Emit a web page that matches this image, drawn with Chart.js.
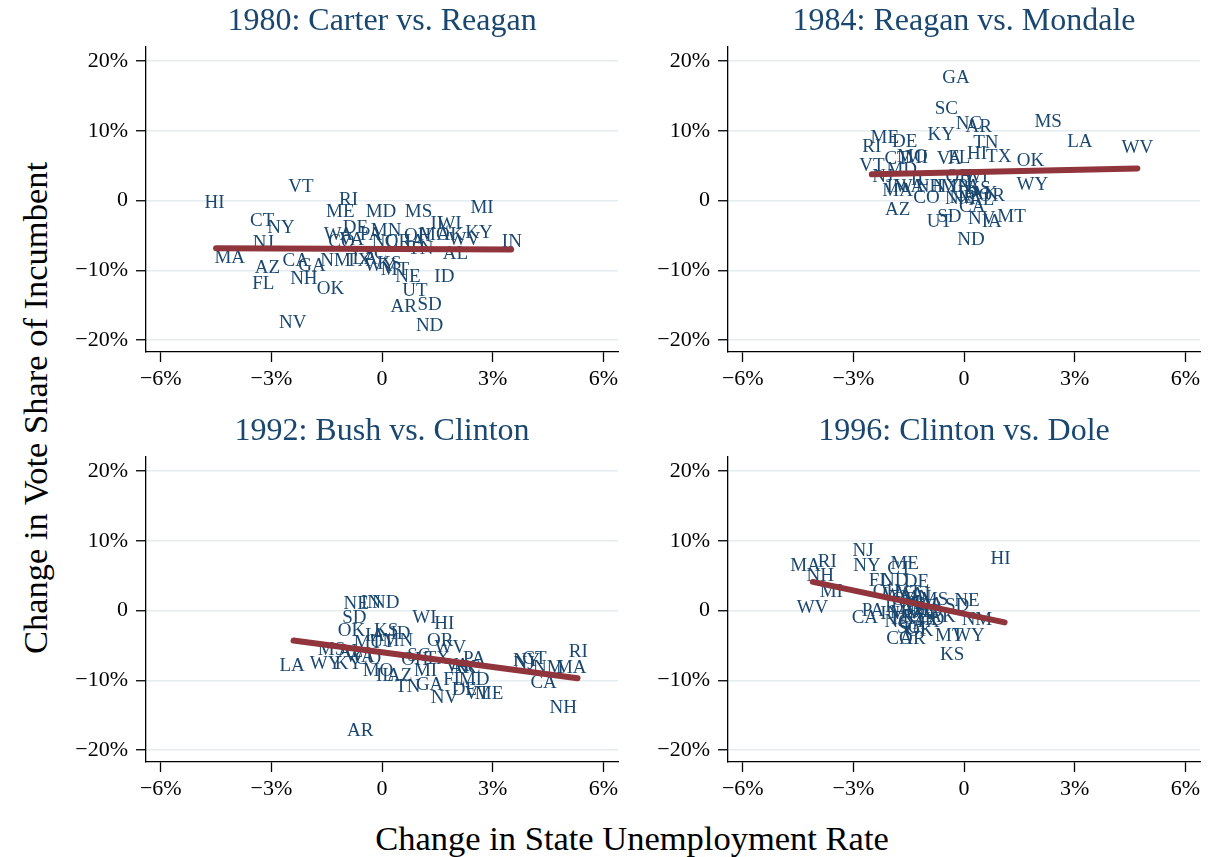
<!DOCTYPE html>
<html>
<head>
<meta charset="utf-8">
<script src="https://cdn.jsdelivr.net/npm/chart.js@4.4.0/dist/chart.umd.min.js"></script>
<style>
  body { margin: 0; background: #fff; width: 1211px; height: 857px; position: relative; overflow: hidden; }
  .panel { position: absolute; width: 552px; height: 397px; }
  .axis-title { position: absolute; font-family: "Liberation Serif", serif; font-size: 34.5px; color: #000; white-space: nowrap; }
  #ytitle { left: 35px; top: 408px; transform: translate(-50%, -50%) rotate(-90deg); }
  #xtitle { left: 632px; top: 838px; transform: translate(-50%, -50%); }
</style>
</head>
<body>
<div class="panel" style="left:70px;top:0px"><canvas id="c1980"></canvas></div>
<div class="panel" style="left:652px;top:0px"><canvas id="c1984"></canvas></div>
<div class="panel" style="left:70px;top:410px"><canvas id="c1992"></canvas></div>
<div class="panel" style="left:652px;top:410px"><canvas id="c1996"></canvas></div>
<div class="axis-title" id="ytitle">Change in Vote Share of Incumbent</div>
<div class="axis-title" id="xtitle">Change in State Unemployment Rate</div>
<script>
// tick values
const xTicks = [-6, -3, 0, 3, 6];
const yTicks = [-20, -10, 0, 10, 20];

// 1980: Carter vs. Reagan
const states1980 = ['HI','VT','CT','NY','NJ','MA','AZ','FL','CA','GA','NH','OK','NM','NV','RI','ME','TX','MD','MS','MI','IL','WI','KY','IN','DE','MN','WA','PA','OH','MO','AK','WV','AL','TN','NE','ID','UT','AR','SD','ND','CO','NC','LA','WY','KS','MT','SC','IA','OR','VA'];
const unemp1980 = [-4.54,-2.2,-3.25,-2.74,-3.22,-4.13,-3.11,-3.22,-2.34,-1.9,-2.12,-1.4,-1.26,-2.42,-0.91,-1.13,-0.64,-0.03,0.99,2.71,1.56,1.83,2.63,3.52,-0.72,0.11,-1.18,-0.3,0.97,1.42,1.85,2.23,1.99,1.05,0.7,1.69,0.89,0.59,1.29,1.29,-1.1,0.08,-0.46,-0.05,0.2,0.35,-0.19,0.89,0.43,-0.83];
const vote1980 = [-0.3,2.0,-3.0,-3.9,-6.1,-8.3,-9.7,-11.9,-8.7,-9.4,-11.3,-12.7,-8.6,-17.6,0.1,-1.6,-8.7,-1.6,-1.6,-1.0,-3.3,-3.3,-4.6,-5.9,-3.9,-4.4,-4.9,-4.9,-5.1,-4.9,-4.9,-5.6,-7.7,-7.0,-11.0,-10.9,-13.0,-15.3,-15.0,-18.0,-5.9,-6.0,-8.4,-9.4,-9.1,-9.9,-7.7,-6.0,-6.0,-5.6];
const fitX1980 = [-4.5, 3.5];
const fitY1980 = [-6.85, -7.0];

// 1984: Reagan vs. Mondale
const states1984 = ['GA','SC','NC','AR','KY','ME','DE','RI','TN','MO','CT','MI','VT','MD','FL','VA','HI','TX','OK','WY','MA','NJ','AZ','CO','IN','WA','NH','NY','MN','OH','PA','WI','NE','OR','NM','CA','IA','NV','MT','SD','UT','ND','AL','ID','MS','LA','WV','IL','KS','AK'];
const unemp1984 = [-0.22,-0.48,0.13,0.4,-0.62,-2.15,-1.61,-2.5,0.59,-1.4,-1.83,-1.29,-2.5,-1.69,-0.13,-0.4,0.35,0.94,1.8,1.85,-1.8,-2.2,-1.8,-1.02,-1.83,-1.48,-0.94,-0.48,-0.22,-0.13,0.13,0.32,-0.05,0.75,-0.1,0.22,0.75,0.48,1.29,-0.4,-0.67,0.19,0.48,0.1,2.28,3.14,4.7,-1.2,0.4,0.54];
const vote1984 = [17.6,13.1,10.9,10.6,9.4,9.0,8.4,7.7,8.3,6.3,5.9,6.1,4.9,4.4,6.1,5.9,6.6,6.3,5.6,2.2,1.3,3.3,-1.3,0.3,2.0,1.9,1.9,1.9,2.0,3.4,2.0,3.3,0.4,0.6,0.2,-0.9,-3.1,-2.7,-2.3,-2.3,-3.1,-5.6,0.1,1.1,11.3,8.4,7.5,3.0,1.6,0.9];
const fitX1984 = [-2.5, 4.7];
const fitY1984 = [3.75, 4.6];

// 1992: Bush vs. Clinton
const states1992 = ['NE','IN','ND','SD','OK','KS','ID','IA','MN','UT','MT','WI','HI','OR','WV','MS','AL','LA','WY','KY','MO','AZ','IL','MI','TN','GA','FL','NV','AR','OH','VA','TX','CO','PA','NC','MD','DE','VT','ME','CT','NY','NM','MA','RI','CA','NH','WA','SC','NJ','AK'];
const unemp1992 = [-0.7,-0.3,0.1,-0.75,-0.83,0.11,0.5,-0.19,0.43,0.0,-0.38,1.15,1.69,1.58,1.85,-1.37,-0.86,-2.44,-1.53,-0.91,-0.11,0.48,0.08,1.18,0.7,1.29,1.96,1.69,-0.59,0.89,2.04,1.5,-0.38,2.5,2.31,2.5,2.23,2.58,2.9,4.13,3.92,4.51,5.13,5.32,4.38,4.91,-0.6,1.0,3.85,2.2];
const vote1992 = [0.9,1.1,1.1,-1.0,-2.9,-3.0,-3.4,-3.6,-4.3,-4.5,-4.7,-1.0,-1.9,-4.3,-5.4,-5.7,-5.9,-8.0,-7.7,-7.7,-8.6,-9.4,-9.4,-8.6,-10.9,-10.7,-10.0,-12.6,-17.3,-7.1,-8.0,-6.9,-6.9,-6.9,-8.3,-10.0,-11.4,-11.9,-11.9,-6.9,-7.3,-8.3,-8.3,-5.9,-10.4,-14.0,-6.6,-6.5,-7.6,-8.3];
const fitX1992 = [-2.4, 5.3];
const fitY1992 = [-4.3, -9.7];

// 1996: Clinton vs. Dole
const states1996 = ['NJ','NY','MA','RI','NH','MI','WV','ME','CT','HI','FL','ND','DE','KS','NE','SD','NM','WY','MT','CA','PA','OH','AR','CO','OR','WA','MN','VT','IA','WI','IL','IN','MO','KY','TN','NC','GA','SC','VA','MD','AZ','NV','UT','ID','OK','TX','LA','MS','AL','AK'];
const unemp1996 = [-2.74,-2.63,-4.3,-3.71,-3.9,-3.6,-4.11,-1.61,-1.75,0.99,-2.28,-1.88,-1.29,-0.32,0.08,-0.19,0.35,0.13,-0.4,-2.69,-2.47,-2.1,-1.4,-1.75,-1.6,-1.8,-1.3,-1.5,-1.1,-1.5,-1.9,-2.0,-1.6,-1.3,-1.7,-1.8,-1.4,-1.5,-1.2,-1.0,-1.4,-1.1,-1.3,-0.8,-1.2,-1.0,-0.9,-0.8,-1.1,-0.6];
const vote1996 = [8.6,6.4,6.4,7.0,4.9,2.7,0.3,6.7,6.0,7.4,4.3,4.3,4.1,-6.4,1.3,0.6,-1.4,-3.7,-3.6,-1.1,0.0,2.7,-4.1,-4.1,1.5,2.2,1.8,2.5,1.0,0.9,0.5,-0.5,-0.3,-1.1,-1.2,-1.7,-2.0,-2.5,-0.5,-0.2,0.2,0.6,-2.7,-1.4,-3.0,-1.6,0.8,1.5,2.2,-0.9];
const fitX1996 = [-4.1, 1.1];
const fitY1996 = [4.1, -1.7];

const serif = '"Liberation Serif", "Times New Roman", serif';
const navy = '#1a476f';
const maroon = '#90353b';

function pct(v) {
    if (v === 0) return '0';
    return (v < 0 ? '\u2212' + Math.abs(v) : v) + '%';
}

// draw the state abbreviations at each point, under the fit line
const stateLabels = {
    id: 'stateLabels',
    beforeDatasetsDraw(chart) {
        const ds = chart.data.datasets[0];
        const meta = chart.getDatasetMeta(0);
        const ctx = chart.ctx;
        ctx.save();
        ctx.font = '19px ' + serif;
        ctx.fillStyle = navy;
        ctx.textAlign = 'center';
        ctx.textBaseline = 'middle';
        meta.data.forEach((pt, i) => ctx.fillText(ds.states[i], pt.x, pt.y));
        ctx.restore();
    }
};

// panel title centred over the plot area (not the whole canvas)
const panelTitle = {
    id: 'panelTitle',
    afterDraw(chart, args, opts) {
        const ctx = chart.ctx;
        const area = chart.chartArea;
        ctx.save();
        ctx.font = '32px ' + serif;
        ctx.fillStyle = navy;
        ctx.textAlign = 'center';
        ctx.textBaseline = 'middle';
        ctx.fillText(opts.text, (area.left + area.right) / 2, 22);
        ctx.restore();
    }
};

function makePanel(id, title, states, xs, ys, fitX, fitY) {
    const ctx = document.getElementById(id).getContext('2d');
    new Chart(ctx, {
        type: 'scatter',
        data: {
            datasets: [{
                states: states,
                data: xs.map((x, i) => ({ x: x, y: ys[i] })),
                pointRadius: 0,
                pointHoverRadius: 0
            }, {
                type: 'line',
                data: fitX.map((x, i) => ({ x: x, y: fitY[i] })),
                borderColor: maroon,
                borderWidth: 6,
                borderCapStyle: 'round',
                pointRadius: 0,
                fill: false
            }]
        },
        options: {
            responsive: true,
            maintainAspectRatio: false,
            animation: false,
            devicePixelRatio: 1,
            layout: { padding: { top: 47, left: 0, right: 0, bottom: 0 }, autoPadding: false },
            events: [],
            plugins: {
                legend: { display: false },
                tooltip: { enabled: false },
                title: { display: false },
                panelTitle: { text: title }
            },
            scales: {
                x: {
                    type: 'linear',
                    min: -6.4,
                    max: 6.4,
                    afterBuildTicks: s => { s.ticks = xTicks.map(v => ({ value: v })); },
                    afterFit: s => { s.height = 45; },
                    ticks: { callback: pct, color: '#000', font: { family: serif, size: 22 }, padding: 4, maxRotation: 0 },
                    grid: { drawOnChartArea: false, drawTicks: true, tickLength: 10, tickColor: '#000', tickWidth: 1.3 },
                    border: { color: '#000', width: 1.3 }
                },
                y: {
                    type: 'linear',
                    min: -21.7,
                    max: 22,
                    afterBuildTicks: s => { s.ticks = yTicks.map(v => ({ value: v })); },
                    afterFit: s => { s.width = 76; },
                    ticks: { callback: pct, color: '#000', font: { family: serif, size: 22 }, padding: 8 },
                    grid: { color: '#e4ecf0', lineWidth: 1.5, tickLength: 10, tickColor: '#000', tickWidth: 1.3 },
                    border: { color: '#000', width: 1.3 }
                }
            }
        },
        plugins: [stateLabels, panelTitle]
    });
}

makePanel('c1980', '1980: Carter vs. Reagan', states1980, unemp1980, vote1980, fitX1980, fitY1980);
makePanel('c1984', '1984: Reagan vs. Mondale', states1984, unemp1984, vote1984, fitX1984, fitY1984);
makePanel('c1992', '1992: Bush vs. Clinton', states1992, unemp1992, vote1992, fitX1992, fitY1992);
makePanel('c1996', '1996: Clinton vs. Dole', states1996, unemp1996, vote1996, fitX1996, fitY1996);
</script>
</body>
</html>
